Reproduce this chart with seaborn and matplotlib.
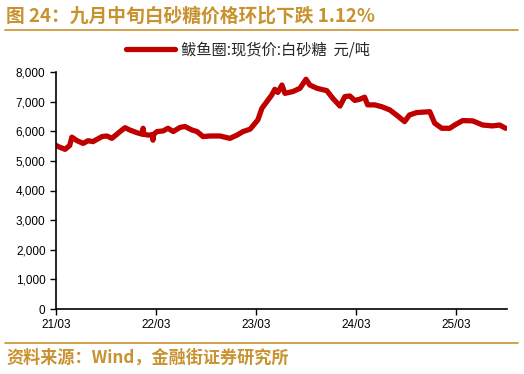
import matplotlib
matplotlib.use("Agg")
import matplotlib.pyplot as plt
import matplotlib.dates as mdates
import matplotlib.ticker as mticker
import pandas as pd
import seaborn as sns

dates = [
    "2021-03-01", "2021-03-15", "2021-04-03", "2021-04-20", "2021-04-28", "2021-05-17",
    "2021-06-08", "2021-06-26", "2021-07-14", "2021-08-16", "2021-09-03", "2021-09-21",
    "2021-10-21", "2021-11-08", "2021-11-26", "2021-12-22", "2022-01-10", "2022-01-13",
    "2022-01-16", "2022-01-31", "2022-02-15", "2022-02-18", "2022-02-21", "2022-03-05",
    "2022-03-27", "2022-04-14", "2022-05-03", "2022-05-28", "2022-06-15", "2022-07-11",
    "2022-07-29", "2022-08-20", "2022-09-14", "2022-10-21", "2022-11-26", "2022-12-22",
    "2023-01-13", "2023-02-08", "2023-02-26", "2023-03-08", "2023-03-23", "2023-04-10",
    "2023-04-28", "2023-05-09", "2023-05-20", "2023-06-04", "2023-06-15", "2023-07-14",
    "2023-08-09", "2023-08-31", "2023-09-14", "2023-10-10", "2023-11-15", "2023-12-07",
    "2024-01-02", "2024-01-20", "2024-02-07", "2024-02-25", "2024-03-14", "2024-04-01",
    "2024-04-12", "2024-05-08", "2024-06-02", "2024-07-02", "2024-07-31", "2024-08-25",
    "2024-09-12", "2024-10-08", "2024-11-25", "2024-12-13", "2025-01-08", "2025-02-06",
    "2025-02-24", "2025-03-25", "2025-05-01", "2025-06-06", "2025-07-12", "2025-08-07",
    "2025-08-29",
]
prices = [
    5520, 5460, 5390, 5520, 5800, 5680,
    5590, 5680, 5650, 5820, 5840, 5760,
    5990, 6120, 6040, 5950, 5900, 6100,
    5900, 5870, 5880, 5700, 5900, 5990,
    6010, 6100, 5990, 6130, 6160, 6040,
    5990, 5820, 5840, 5840, 5760, 5870,
    5990, 6070, 6270, 6380, 6775, 7000,
    7225, 7415, 7310, 7560, 7280, 7340,
    7450, 7755, 7560, 7450, 7370, 7110,
    6850, 7170, 7190, 7040, 7080, 7150,
    6890, 6890, 6830, 6720, 6515, 6325,
    6550, 6630, 6660, 6270, 6100, 6100,
    6210, 6360, 6350, 6210, 6180, 6210,
    6100,
]
series_name = "鲅鱼圈:现货价:白砂糖  元/吨"
title_text = "图 24：九月中旬白砂糖价格环比下跌 1.12%"
source_text = "资料来源：Wind，金融街证券研究所"

sns.set_theme(style="ticks")
plt.rcParams["font.family"] = ["Noto Sans CJK SC", "DejaVu Sans"]

df = pd.DataFrame({"date": pd.to_datetime(dates), "price": prices, "series": series_name})

fig = plt.figure(figsize=(5.24, 3.74), dpi=100)
ax = fig.add_axes([56 / 524, 1 - 309 / 374, (507 - 56) / 524, (309 - 72) / 374])

sns.lineplot(data=df, x="date", y="price", hue="series", palette=["#C00000"],
             linewidth=3.8, ax=ax, legend=True)

ax.set_ylim(0, 8000)
ax.set_xlim(pd.Timestamp("2021-03-01"), pd.Timestamp("2025-09-03"))
ax.yaxis.set_major_locator(mticker.MultipleLocator(1000))
ax.yaxis.set_major_formatter(mticker.FuncFormatter(lambda v, p: f"{int(v):,}"))
ax.xaxis.set_major_locator(mdates.MonthLocator(bymonth=3, bymonthday=1))
ax.xaxis.set_major_formatter(mdates.DateFormatter("%y/%m"))
ax.set_xlabel("")
ax.set_ylabel("")
ax.tick_params(axis="both", labelsize=8.5, length=4, width=1, colors="#000000", direction="out")
for lab in ax.get_xticklabels() + ax.get_yticklabels():
    lab.set_family(["Liberation Sans", "DejaVu Sans"])
for s in ["top", "right"]:
    ax.spines[s].set_visible(False)
for s in ["left", "bottom"]:
    ax.spines[s].set_color("#000000")
    ax.spines[s].set_linewidth(1.2)

leg = ax.legend(loc="center", bbox_to_anchor=(0.426, 1.093), frameon=False,
                fontsize=11, handlelength=3.2, handletextpad=0.4)
for line in leg.get_lines():
    line.set_linewidth(3.8)

gold = "#C8922E"
fig.text(6 / 524, 1 - 16 / 374, title_text, color=gold, fontsize=13.5, fontweight="bold",
         va="center", ha="left")
fig.add_artist(plt.Line2D([5 / 524, 518 / 524], [1 - 30 / 374, 1 - 30 / 374], color=gold, lw=1.2))
fig.add_artist(plt.Line2D([5 / 524, 518 / 524], [1 - 343 / 374, 1 - 343 / 374], color=gold, lw=1.2))
fig.text(6 / 524, 1 - 358 / 374, source_text, color=gold, fontsize=12.3, fontweight="bold",
         va="center", ha="left")

fig.savefig("out.png", dpi=100)
